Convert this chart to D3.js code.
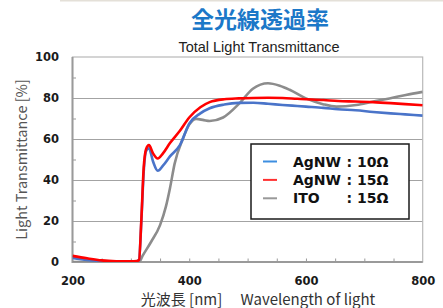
<!DOCTYPE html>
<html>
<head>
<meta charset="utf-8">
<script src="https://cdn.jsdelivr.net/npm/d3@7"></script>
<style>
  html, body { margin: 0; padding: 0; background: #fff; }
  svg { display: block; }
</style>
</head>
<body>
<div id="chart"></div>
<script>
// wavelength [nm] and transmittance [%]
const wlAg10 = [200, 225, 250, 275, 300, 310, 314, 318, 322, 326, 331, 338, 346, 355, 367, 384, 400, 419, 435, 460, 485, 510, 535, 560, 585, 600, 630, 655, 685, 715, 745, 770, 800];
const tAg10 = [2, 1, 0.5, 0.3, 0.3, 0.4, 1, 20, 44, 54, 55.5, 49, 44.5, 47, 51.5, 57, 67.5, 72.5, 75, 76.8, 77.6, 77.7, 77.2, 76.6, 76.1, 75.8, 75.2, 74.5, 74, 73.2, 72.5, 72, 71.4];

const wlAg15 = [200, 225, 250, 275, 300, 310, 314, 318, 322, 326, 331, 338, 346, 355, 367, 384, 400, 419, 435, 460, 485, 510, 535, 560, 585, 600, 630, 655, 685, 715, 745, 770, 800];
const tAg15 = [3, 1.8, 0.8, 0.4, 0.3, 0.5, 1, 21, 46, 55, 57, 53, 50.5, 53, 58, 64, 70.5, 75.5, 78, 79.4, 79.8, 80, 80.1, 80, 79.6, 79.4, 79, 78.5, 78.3, 78, 77.5, 77, 76.5];

const wlIto = [200, 250, 300, 314, 320, 335, 350, 360, 367, 375, 389, 400, 412, 425, 435, 458, 486, 509, 535, 555, 572, 600, 629, 652, 686, 714, 743, 771, 800];
const tIto = [0, 0, 0, 0, 3, 10, 18, 27, 36, 48, 60, 67, 69.8, 69.2, 68.8, 70.5, 77.4, 84.5, 87.2, 86, 84, 79.8, 77, 75.8, 76.6, 78.2, 79.8, 81.5, 83];

const seriesNames = ["AgNW", "AgNW", "ITO"];
const seriesValues = [": 10Ω", ": 15Ω", ": 15Ω"];
const seriesColors = ["#4a74c9", "#ff0000", "#8c8c8c"];
const legendColors = ["#3d8ee0", "#ff3030", "#999999"];

const xLabelTicks = [200, 400, 600, 800];
const xMinorTicks = d3.range(250, 800, 50);
const yLabelTicks = [0, 20, 40, 60, 80, 100];
const yGridTicks = [20, 40, 60, 80];
const yMinorTicks = [10, 30, 50, 70, 90];

const W = 443, H = 308;
const m = { left: 72.5, right: 20.3, top: 57, bottom: 46 };
const iw = W - m.left - m.right, ih = H - m.top - m.bottom;

const svg = d3.select("#chart").append("svg")
  .attr("width", W).attr("height", H);

// faint strip along the top
svg.append("rect").attr("x", 60).attr("y", 0).attr("width", W - 60).attr("height", 1.5)
  .attr("fill", "#e4e0d8");

svg.append("text")
  .attr("x", 260).attr("y", 28)
  .attr("text-anchor", "middle")
  .style("font-family", "'Noto Sans CJK JP'")
  .style("font-weight", "bold")
  .style("font-size", "23px")
  .attr("fill", "#1c78c8")
  .text("全光線透過率");

svg.append("text")
  .attr("x", 259).attr("y", 51.5)
  .attr("text-anchor", "middle")
  .style("font-family", "'Liberation Sans', Arial, sans-serif")
  .style("font-size", "14.5px")
  .attr("fill", "#222")
  .text("Total Light Transmittance");

const x = d3.scaleLinear().domain([200, 800]).range([0, iw]);
const y = d3.scaleLinear().domain([0, 100]).range([ih, 0]);

const g = svg.append("g").attr("transform", `translate(${m.left},${m.top})`);

// grid
g.append("g")
  .call(d3.axisLeft(y).tickValues(yGridTicks).tickSize(-iw).tickFormat(""))
  .call(a => a.select(".domain").remove())
  .call(a => a.selectAll("line").attr("stroke", "#a3a3a3").attr("stroke-width", 1.2));

// minor ticks (inward)
g.append("g")
  .call(d3.axisLeft(y).tickValues(yMinorTicks).tickSize(-3.5).tickFormat(""))
  .call(a => a.select(".domain").remove())
  .call(a => a.selectAll("line").attr("stroke", "#999"));
g.append("g").attr("transform", `translate(0,${ih})`)
  .call(d3.axisBottom(x).tickValues(xMinorTicks).tickSize(-3.5).tickFormat(""))
  .call(a => a.select(".domain").remove())
  .call(a => a.selectAll("line").attr("stroke", "#999"));

// frame
g.append("rect").attr("width", iw).attr("height", ih)
  .attr("fill", "none").attr("stroke", "#b8b8b8").attr("stroke-width", 1.2);
g.append("path")
  .attr("d", `M0,0V${ih}H${iw}`)
  .attr("fill", "none").attr("stroke", "#9a9a9a").attr("stroke-width", 2);

// tick labels
const labelStyle = a => a.selectAll("text")
  .style("font-family", "'DejaVu Sans', Verdana, sans-serif")
  .style("font-weight", "bold")
  .style("font-size", "11.5px")
  .attr("fill", "#1a1a1a");

g.append("g")
  .call(d3.axisLeft(y).tickValues(yLabelTicks).tickSize(0).tickPadding(13.5))
  .call(a => a.select(".domain").remove())
  .call(labelStyle);

g.append("g").attr("transform", `translate(0,${ih})`)
  .call(d3.axisBottom(x).tickValues(xLabelTicks).tickSize(0).tickPadding(15))
  .call(a => a.select(".domain").remove())
  .call(labelStyle);

// curves
svg.append("clipPath").attr("id", "clip")
  .append("rect").attr("x", 0).attr("y", -2).attr("width", iw).attr("height", ih + 2);

const line = d3.line()
  .x(d => x(d[0]))
  .y(d => y(d[1]))
  .curve(d3.curveMonotoneX);

const series = [
  d3.zip(wlIto, tIto),
  d3.zip(wlAg10, tAg10),
  d3.zip(wlAg15, tAg15)
];
const seriesColorOrder = [seriesColors[2], seriesColors[0], seriesColors[1]];

g.append("g").attr("clip-path", "url(#clip)")
  .selectAll("path")
  .data(series)
  .join("path")
  .attr("d", line)
  .attr("fill", "none")
  .attr("stroke", (d, i) => seriesColorOrder[i])
  .attr("stroke-width", 2.6)
  .attr("stroke-linejoin", "round");

// legend
const leg = svg.append("g").attr("transform", "translate(251,144)");
leg.append("rect").attr("width", 158).attr("height", 75)
  .attr("fill", "#fff").attr("stroke", "#1a1a1a").attr("stroke-width", 1.5);

const rows = leg.selectAll("g.row")
  .data(seriesNames.map((n, i) => ({ n, v: seriesValues[i], c: legendColors[i] })))
  .join("g").attr("class", "row")
  .attr("transform", (d, i) => `translate(0,${17.5 + i * 18.4})`);

rows.append("line")
  .attr("x1", 12).attr("x2", 26)
  .attr("stroke", d => d.c).attr("stroke-width", 2);

const legFont = s => s
  .style("font-family", "'DejaVu Sans', Verdana, sans-serif")
  .style("font-weight", "bold")
  .style("font-size", "14px")
  .attr("fill", "#111")
  .attr("dy", "0.36em");

rows.append("text").attr("x", 42).text(d => d.n).call(legFont);
rows.append("text").attr("x", 95.5).text(d => d.v).call(legFont);

// axis titles
svg.append("text")
  .attr("transform", `translate(26.5,${m.top + ih / 2}) rotate(-90)`)
  .attr("text-anchor", "middle")
  .style("font-family", "'Noto Sans CJK JP', 'Noto Sans', sans-serif")
  .style("font-size", "14.5px")
  .attr("fill", "#555")
  .text("Light Transmittance [%]");

svg.append("text")
  .attr("x", 258).attr("y", 305)
  .attr("text-anchor", "middle")
  .style("font-family", "'Noto Sans CJK JP', 'Noto Sans', sans-serif")
  .style("font-size", "15px")
  .attr("fill", "#333")
  .text("光波長 [nm]\u3000 Wavelength of light");
</script>
</body>
</html>
